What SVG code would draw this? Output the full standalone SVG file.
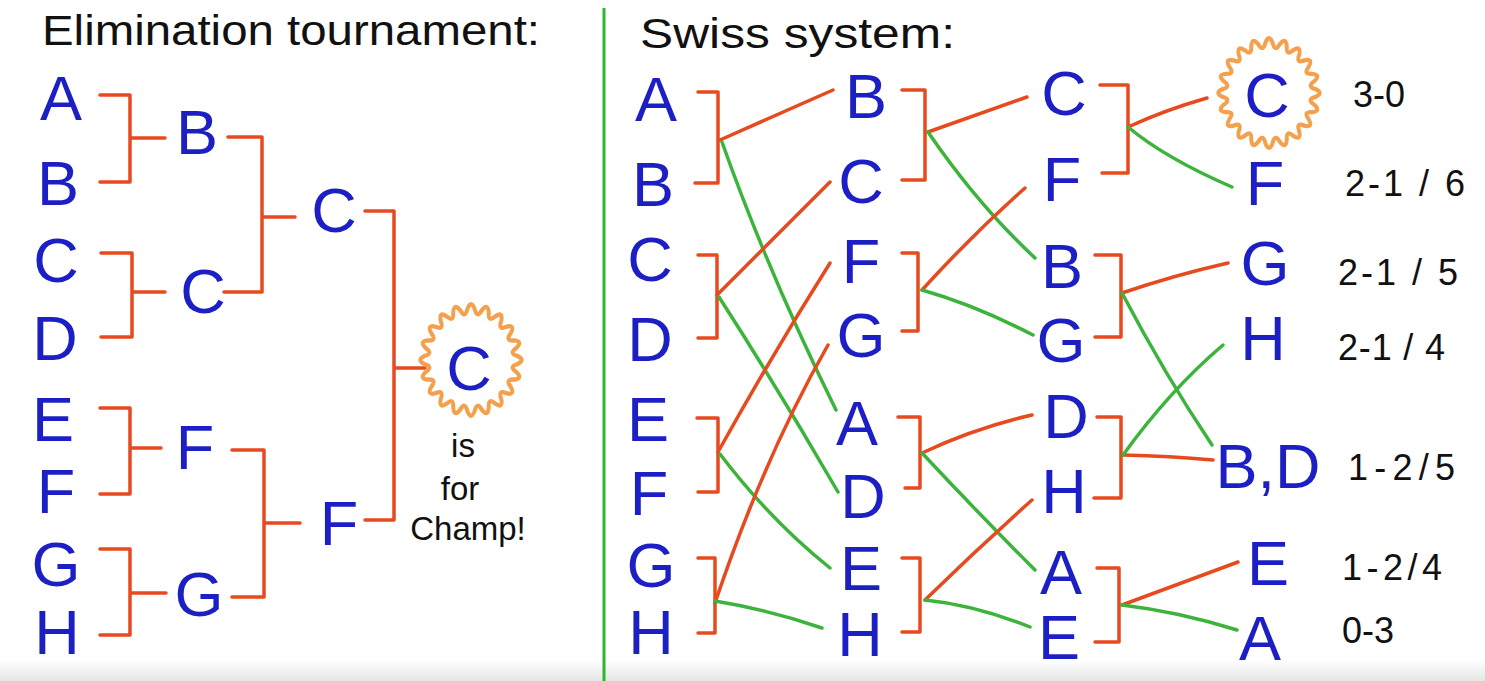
<svg xmlns="http://www.w3.org/2000/svg" width="1485" height="681" viewBox="0 0 1485 681">
<style>
.l{font-family:"Liberation Sans",Arial,sans-serif;font-size:63px;fill:#1c1fc4;text-anchor:middle}
.t{font-family:"Liberation Sans",Arial,sans-serif;font-size:42px;fill:#111}
.s{font-family:"Liberation Sans",Arial,sans-serif;font-size:36px;fill:#111}
.c{font-family:"Liberation Sans",Arial,sans-serif;font-size:33px;fill:#111;text-anchor:middle}
.o{fill:none;stroke:#e64a1e;stroke-width:3.5;stroke-linecap:round;stroke-linejoin:round}
.g{fill:none;stroke:#3cb43c;stroke-width:3.5;stroke-linecap:round}
.burst{fill:none;stroke:#f5a04c;stroke-width:4;stroke-linejoin:round}
</style>
<defs>
<linearGradient id="bot" x1="0" y1="0" x2="0" y2="1">
<stop offset="0" stop-color="#ffffff"/>
<stop offset="1" stop-color="#e6e6e6"/>
</linearGradient>
<path id="star" d="M46.36,-3.65 Q55,0 46.36,3.65 Q37.53,5.94 45.21,10.86 Q52.31,17.00 42.96,17.79 Q33.86,17.25 39.65,24.30 Q44.50,32.33 35.36,30.20 Q26.87,26.87 30.20,35.36 Q32.33,44.50 24.30,39.65 Q17.25,33.86 17.79,42.96 Q17.00,52.31 10.86,45.21 Q5.94,37.53 3.65,46.36 Q0,55 -3.65,46.36 Q-5.94,37.53 -10.86,45.21 Q-17.00,52.31 -17.79,42.96 Q-17.25,33.86 -24.30,39.65 Q-32.33,44.50 -30.20,35.36 Q-26.87,26.87 -35.36,30.20 Q-44.50,32.33 -39.65,24.30 Q-33.86,17.25 -42.96,17.79 Q-52.31,17.00 -45.21,10.86 Q-37.53,5.94 -46.36,3.65 Q-55,0 -46.36,-3.65 Q-37.53,-5.94 -45.21,-10.86 Q-52.31,-17.00 -42.96,-17.79 Q-33.86,-17.25 -39.65,-24.30 Q-44.50,-32.33 -35.36,-30.20 Q-26.87,-26.87 -30.20,-35.36 Q-32.33,-44.50 -24.30,-39.65 Q-17.25,-33.86 -17.79,-42.96 Q-17.00,-52.31 -10.86,-45.21 Q-5.94,-37.53 -3.65,-46.36 Q0,-55 3.65,-46.36 Q5.94,-37.53 10.86,-45.21 Q17.00,-52.31 17.79,-42.96 Q17.25,-33.86 24.30,-39.65 Q32.33,-44.50 30.20,-35.36 Q26.87,-26.87 35.36,-30.20 Q44.50,-32.33 39.65,-24.30 Q33.86,-17.25 42.96,-17.79 Q52.31,-17.00 45.21,-10.86 Q37.53,-5.94 46.36,-3.65 Z"/>
</defs>
<rect width="1485" height="681" fill="#ffffff"/>
<rect x="0" y="660" width="1485" height="21" fill="url(#bot)"/>
<line x1="604" y1="8" x2="604" y2="681" stroke="#2fb52f" stroke-width="3"/>

<g id="titles">
<text class="t" x="42" y="45" textLength="498" lengthAdjust="spacingAndGlyphs">Elimination tournament:</text>
<text class="t" x="640" y="48" textLength="315" lengthAdjust="spacingAndGlyphs">Swiss system:</text>
</g>

<g id="connectors">
<!-- elimination brackets -->
<path class="o" d="M100,95 H130 V182 H100 M130,138 H165"/>
<path class="o" d="M101,253 H132 V337 H101 M132,292 H165"/>
<path class="o" d="M100,408 H130 V494 H100 M130,448 H161"/>
<path class="o" d="M100,549 H130 V635 H100 M131,593 H166"/>
<path class="o" d="M228,137 H262 V292 H224 M262,217 H295"/>
<path class="o" d="M232,450 H264 V597 H232 M264,523 H300"/>
<path class="o" d="M365,211 H394 V520 H365 M394,368 H425"/>
<!-- swiss round 1 brackets -->
<path class="o" d="M698,92 H718 V183 H695"/>
<path class="o" d="M698,255 H717 V338 H698"/>
<path class="o" d="M697,418 H718 V492 H698"/>
<path class="o" d="M698,558 H715 V633 H698"/>
<!-- swiss round 2 brackets -->
<path class="o" d="M902,90 H925 V180 H902"/>
<path class="o" d="M902,253 H918 V331 H902"/>
<path class="o" d="M898,417 H920 V488 H905"/>
<path class="o" d="M902,558 H920 V632 H902"/>
<!-- swiss round 3 brackets -->
<path class="o" d="M1100,85 H1128 V173 H1102"/>
<path class="o" d="M1095,255 H1121 V337 H1095"/>
<path class="o" d="M1097,417 H1121 V498 H1094"/>
<path class="o" d="M1097,568 H1119 V642 H1095"/>
<!-- round 1 -> 2 -->
<path class="o" d="M720,140 L833,90"/>
<path class="g" d="M722,142 Q768,272 836,410"/>
<path class="o" d="M717,295 Q772,240 830,182"/>
<path class="g" d="M719,297 Q782,395 838,492"/>
<path class="o" d="M718,452 Q772,355 830,263"/>
<path class="g" d="M720,454 Q770,520 830,568"/>
<path class="o" d="M715,603 Q765,455 828,345"/>
<path class="g" d="M715,601 Q770,610 822,628"/>
<!-- round 2 -> 3 -->
<path class="o" d="M928,132 L1027,97"/>
<path class="g" d="M928,132 Q978,205 1035,258"/>
<path class="o" d="M922,290 Q972,235 1025,188"/>
<path class="g" d="M922,290 Q975,305 1033,335"/>
<path class="o" d="M922,453 Q975,428 1032,415"/>
<path class="g" d="M922,453 Q980,515 1035,570"/>
<path class="o" d="M925,600 Q978,548 1032,500"/>
<path class="g" d="M925,600 Q975,605 1030,627"/>
<!-- round 3 -> final -->
<path class="o" d="M1128,127 Q1165,110 1207,98"/>
<path class="g" d="M1128,127 Q1165,158 1232,187"/>
<path class="o" d="M1122,293 Q1175,275 1228,263"/>
<path class="g" d="M1122,293 Q1165,375 1212,445"/>
<path class="o" d="M1123,455 Q1170,456 1213,460"/>
<path class="g" d="M1123,455 Q1170,390 1223,345"/>
<path class="o" d="M1122,605 L1238,562"/>
<path class="g" d="M1122,605 Q1180,612 1237,630"/>
</g>

<!-- elimination nodes -->
<g id="e1-A"><text class="l" x="61" y="120">A</text></g>
<g id="e1-B"><text class="l" x="58" y="205">B</text></g>
<g id="e1-C"><text class="l" x="56" y="282">C</text></g>
<g id="e1-D"><text class="l" x="55" y="360">D</text></g>
<g id="e1-E"><text class="l" x="53" y="441">E</text></g>
<g id="e1-F"><text class="l" x="56" y="513">F</text></g>
<g id="e1-G"><text class="l" x="56" y="586">G</text></g>
<g id="e1-H"><text class="l" x="57" y="654">H</text></g>
<g id="e2-B"><text class="l" x="197" y="154">B</text></g>
<g id="e2-C"><text class="l" x="203" y="313">C</text></g>
<g id="e2-F"><text class="l" x="195" y="469">F</text></g>
<g id="e2-G"><text class="l" x="199" y="616">G</text></g>
<g id="e3-C"><text class="l" x="334" y="232">C</text></g>
<g id="e3-F"><text class="l" x="339" y="545">F</text></g>
<g id="e-champ">
<use href="#star" class="burst" transform="translate(471,360) scale(1,1.1)" vector-effect="non-scaling-stroke"/>
<text class="l" x="469" y="390">C</text>
<text class="c" x="463" y="457">is</text>
<text class="c" x="460" y="500">for</text>
<text class="c" x="468" y="540">Champ!</text>
</g>

<!-- swiss nodes -->
<g id="s1-A"><text class="l" x="656" y="121">A</text></g>
<g id="s1-B"><text class="l" x="653" y="206">B</text></g>
<g id="s1-C"><text class="l" x="650" y="281">C</text></g>
<g id="s1-D"><text class="l" x="650" y="361">D</text></g>
<g id="s1-E"><text class="l" x="648" y="441">E</text></g>
<g id="s1-F"><text class="l" x="649" y="515">F</text></g>
<g id="s1-G"><text class="l" x="651" y="587">G</text></g>
<g id="s1-H"><text class="l" x="651" y="654">H</text></g>

<g id="s2-B"><text class="l" x="866" y="118">B</text></g>
<g id="s2-C"><text class="l" x="861" y="203">C</text></g>
<g id="s2-F"><text class="l" x="861" y="283">F</text></g>
<g id="s2-G"><text class="l" x="861" y="357">G</text></g>
<g id="s2-A"><text class="l" x="857" y="445">A</text></g>
<g id="s2-D"><text class="l" x="863" y="518">D</text></g>
<g id="s2-E"><text class="l" x="861" y="590">E</text></g>
<g id="s2-H"><text class="l" x="860" y="656">H</text></g>

<g id="s3-C"><text class="l" x="1064" y="115">C</text></g>
<g id="s3-F"><text class="l" x="1062" y="201">F</text></g>
<g id="s3-B"><text class="l" x="1062" y="288">B</text></g>
<g id="s3-G"><text class="l" x="1061" y="362">G</text></g>
<g id="s3-D"><text class="l" x="1066" y="438">D</text></g>
<g id="s3-H"><text class="l" x="1064" y="513">H</text></g>
<g id="s3-A"><text class="l" x="1061" y="594">A</text></g>
<g id="s3-E"><text class="l" x="1059" y="659">E</text></g>

<g id="s4-C">
<use href="#star" class="burst" transform="translate(1269,93) scale(1,1.08)" vector-effect="non-scaling-stroke"/>
<text class="l" x="1267" y="117">C</text>
<text class="s" x="1353" y="107">3-0</text>
</g>
<g id="s4-F"><text class="l" x="1265" y="205">F</text><text class="s" x="1345" y="196" textLength="120">2-1 / 6</text></g>
<g id="s4-G"><text class="l" x="1265" y="285">G</text><text class="s" x="1338" y="285" textLength="120">2-1 / 5</text></g>
<g id="s4-H"><text class="l" x="1263" y="360">H</text><text class="s" x="1338" y="360" textLength="107">2-1 / 4</text></g>
<g id="s4-BD"><text class="l" x="1268" y="488">B,D</text><text class="s" x="1348" y="480" textLength="107">1-2/5</text></g>
<g id="s4-E"><text class="l" x="1268" y="585">E</text><text class="s" x="1342" y="580" textLength="100">1-2/4</text></g>
<g id="s4-A"><text class="l" x="1260" y="660">A</text><text class="s" x="1342" y="643">0-3</text></g>
</svg>
